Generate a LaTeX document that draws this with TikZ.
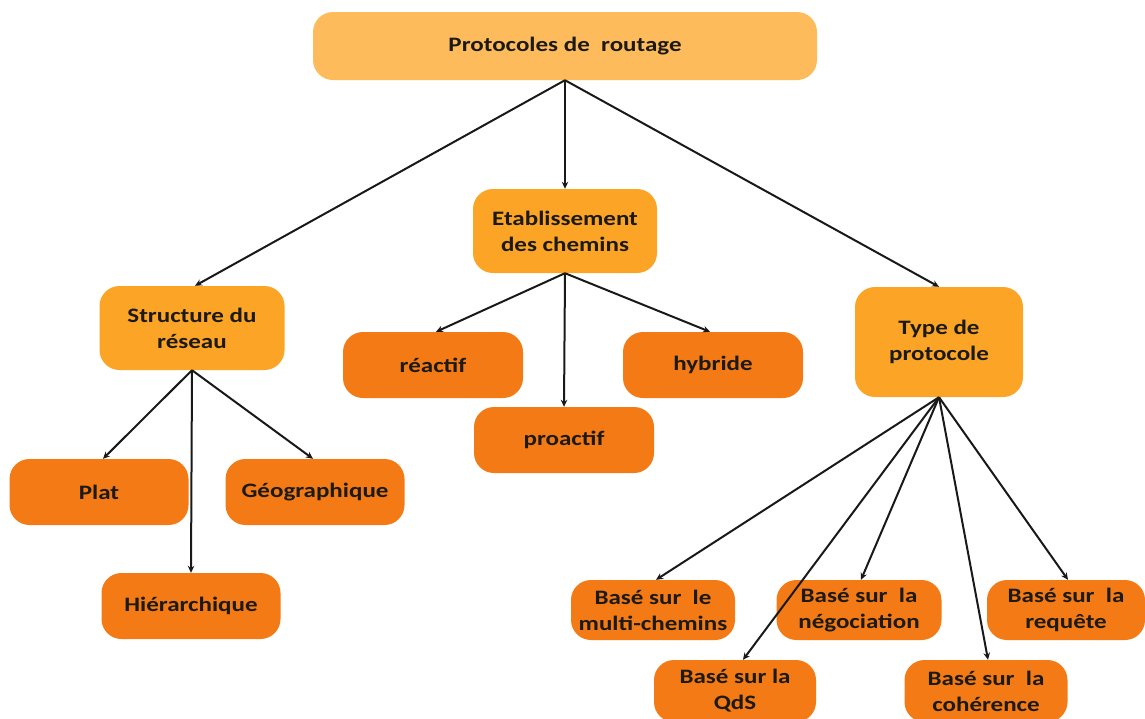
\documentclass[tikz,border=0pt]{standalone}
\usepackage{fontspec}
\setmainfont{Carlito}[FakeStretch=1.22]
\usetikzlibrary{arrows.meta}
\definecolor{rootc}{HTML}{FDBB5B}
\definecolor{midc}{HTML}{FBA425}
\definecolor{leafc}{HTML}{F37A14}
\definecolor{txt}{HTML}{1C1A14}
\begin{document}
\begin{tikzpicture}[x=1pt,y=-1pt,
  box/.style={rounded corners=20pt, inner sep=0pt, align=center, text=txt,
    font=\fontsize{20.5}{26}\selectfont\bfseries},
  rootbox/.style={box, fill=rootc, minimum width=504pt, minimum height=68pt},
  midbox/.style={box, fill=midc, minimum width=184pt, minimum height=84pt},
  leafbox/.style={box, fill=leafc, minimum width=180pt, minimum height=66pt},
  smallbox/.style={box, fill=leafc, minimum width=164pt, minimum height=60pt},
  conn/.style={draw=black!90, line width=2pt, -{Stealth[length=7pt,width=6.5pt]}}
]
\useasboundingbox (0,0) rectangle (1145,718);
\node[rootbox] (root) at (565,46) {Protocoles de~~routage};
\node[midbox] (etab) at (565,231) {Etablissement\\des chemins};
\node[midbox, minimum width=185pt] (struct) at (192,328) {Structure du\\réseau};
\node[midbox, minimum width=168pt, minimum height=110pt] (type) at (939,342) {Type de\\protocole};
\node[leafbox] (reactif) at (433,365) {réactif};
\node[leafbox] (hybride) at (713,365) {hybride};
\node[leafbox] (proactif) at (564,440) {proactif};
\node[leafbox, minimum width=179pt] (plat) at (99,492) {Plat};
\node[leafbox, minimum width=179pt] (geo) at (315,492) {Géographique};
\node[leafbox, minimum width=179pt] (hier) at (191,606) {Hiérarchique};
\node[smallbox] (multi) at (653,610) {Basé sur~~le\\multi-chemins};
\node[smallbox, minimum width=165pt] (nego) at (859,610) {Basé sur~~la\\négociation};
\node[smallbox, minimum width=158pt] (req) at (1066,610) {Basé sur~~la\\requête};
\node[smallbox, minimum width=162pt, minimum height=62pt] (qds) at (735,691) {Basé sur la\\QdS};
\node[smallbox, minimum width=163pt, minimum height=62pt] (coh) at (986,691) {Basé sur~~la\\cohérence};
\draw[conn] (root.south) -- ([xshift=3pt]struct.north);
\draw[conn] (root.south) -- (etab.north);
\draw[conn] (root.south) -- (type.north);
\draw[conn] (etab.south) -- ([xshift=3pt]reactif.north);
\draw[conn] (etab.south) -- (proactif.north);
\draw[conn] (etab.south) -- ([xshift=-3pt]hybride.north);
\draw[conn] (struct.south) -- ([xshift=4pt]plat.north);
\draw[conn] (struct.south) -- (hier.north);
\draw[conn] (struct.south) -- ([xshift=-2pt]geo.north);
\draw[conn] (type.south) -- ([xshift=3pt]multi.north);
\draw[conn] (type.south) -- ([xshift=8pt]qds.north);
\draw[conn] (type.south) -- ([xshift=2pt]nego.north);
\draw[conn] (type.south) -- ([xshift=2pt]coh.north);
\draw[conn] (type.south) -- ([xshift=2pt]req.north);
\end{tikzpicture}
\end{document}
